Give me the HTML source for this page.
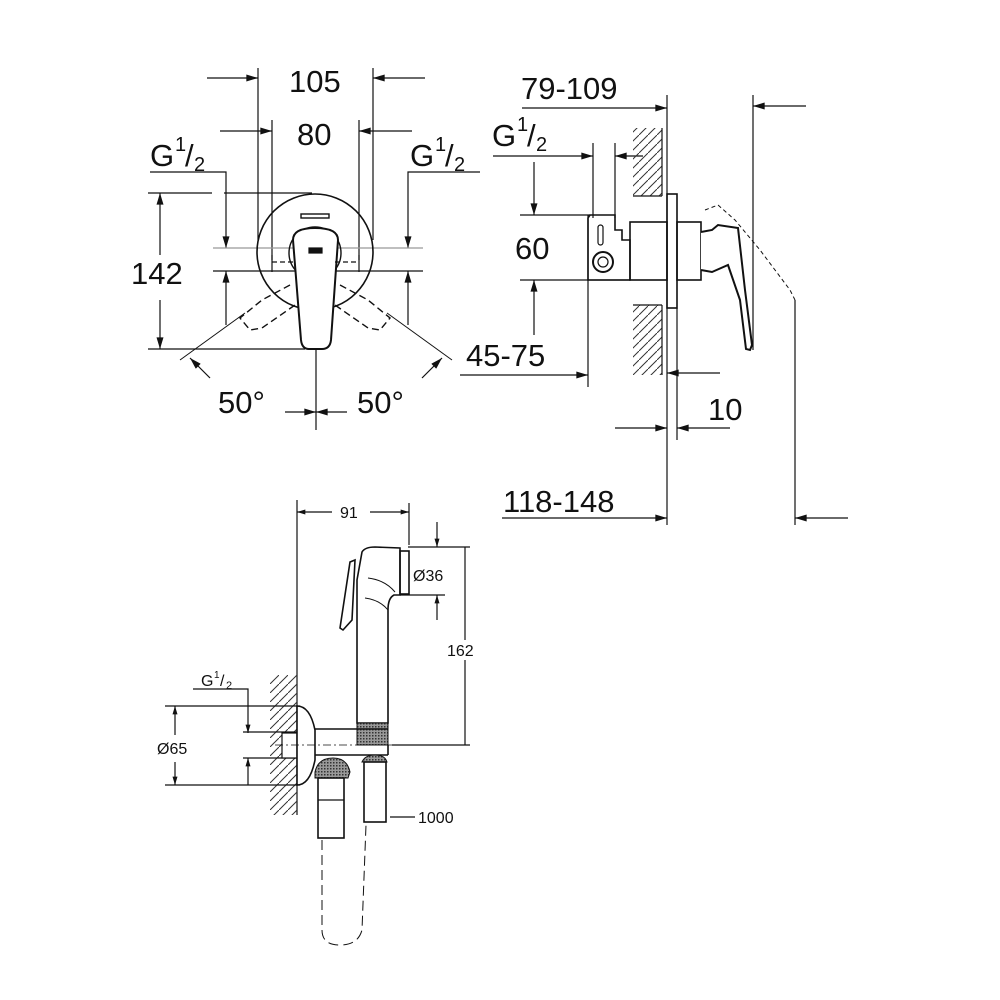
<!DOCTYPE html>
<html><head><meta charset="utf-8"><style>
html,body{margin:0;padding:0;background:#fff;}
svg{display:block;}
text{font-family:"Liberation Sans",Arial,sans-serif;fill:#111;}
</style></head><body>
<svg width="1000" height="1000" viewBox="0 0 1000 1000" xmlns="http://www.w3.org/2000/svg">
<defs>
<marker id="a" viewBox="0 0 10 6" refX="10" refY="3" markerWidth="18" markerHeight="7" markerUnits="userSpaceOnUse" orient="auto"><path d="M0,0 L10,3 L0,6z" fill="#111"/></marker>
<marker id="s" viewBox="0 0 10 6" refX="10" refY="3" markerWidth="11" markerHeight="5" markerUnits="userSpaceOnUse" orient="auto"><path d="M0,0 L10,3 L0,6z" fill="#111"/></marker>
<pattern id="h" patternUnits="userSpaceOnUse" width="9" height="9"><path d="M-1,10 L10,-1" stroke="#333" stroke-width="1"/></pattern>
<pattern id="k" patternUnits="userSpaceOnUse" width="3" height="3"><rect width="3" height="3" fill="#999"/><rect width="1.5" height="1.5" fill="#333"/></pattern>
</defs>
<g stroke="#111" stroke-width="1.2" fill="none">
<!-- ===== FRONT VIEW ===== -->
<line x1="258" y1="68" x2="258" y2="240"/>
<line x1="373" y1="68" x2="373" y2="240"/>
<line x1="207" y1="78" x2="258" y2="78" marker-end="url(#a)"/>
<line x1="425" y1="78" x2="373" y2="78" marker-end="url(#a)"/>
<line x1="272" y1="120" x2="272" y2="272"/>
<line x1="359" y1="120" x2="359" y2="272"/>
<line x1="220" y1="131" x2="272" y2="131" marker-end="url(#a)"/>
<line x1="412" y1="131" x2="359" y2="131" marker-end="url(#a)"/>
<polyline points="150,172 226,172 226,248" marker-end="url(#a)"/>
<polyline points="480,172 408,172 408,248" marker-end="url(#a)"/>
<line x1="213" y1="248" x2="423" y2="248" stroke="#999"/>
<line x1="213" y1="271" x2="423" y2="271"/>
<line x1="226" y1="325" x2="226" y2="271" marker-end="url(#a)"/>
<line x1="408" y1="325" x2="408" y2="271" marker-end="url(#a)"/>
<line x1="148" y1="193" x2="212" y2="193"/>
<line x1="224" y1="193" x2="312" y2="193"/>
<line x1="148" y1="349" x2="212" y2="349"/>
<line x1="212" y1="349" x2="305" y2="349"/>
<line x1="160" y1="255" x2="160" y2="193" marker-end="url(#a)"/>
<line x1="160" y1="300" x2="160" y2="349" marker-end="url(#a)"/>
<circle cx="315" cy="252" r="58" stroke-width="1.6"/>
<circle cx="315" cy="253" r="26" stroke-width="1.4"/>
<circle cx="315" cy="253" r="21" stroke-width="1"/>
<rect x="301" y="214" width="28" height="4" stroke-width="1.4"/>
<path d="M293,240 Q293,228 315,228 Q338,228 338,240 L331,340 Q330,349 322,349 L309,349 Q302,349 301,340 Z" fill="#fff" stroke-width="2"/>
<rect x="309" y="248" width="13" height="5" fill="#111"/>
<path d="M290,285 L262,300 L240,318 L250,330 L262,328 L295,305" stroke-dasharray="7,4" stroke-width="1.4"/>
<path d="M340,285 L368,300 L390,318 L380,330 L368,328 L335,305" stroke-dasharray="7,4" stroke-width="1.4"/>
<path d="M272,262 L295,262 M335,262 L359,262 M272,255 L272,262 M359,255 L359,262" stroke-dasharray="5,3"/>
<line x1="180" y1="360" x2="245" y2="313" stroke-width="1"/>
<line x1="452" y1="360" x2="387" y2="313" stroke-width="1"/>
<line x1="210" y1="378" x2="190" y2="358" marker-end="url(#a)"/>
<line x1="422" y1="378" x2="442" y2="358" marker-end="url(#a)"/>
<line x1="316" y1="349" x2="316" y2="430"/>
<line x1="285" y1="412" x2="316" y2="412" marker-end="url(#a)"/>
<line x1="347" y1="412" x2="316" y2="412" marker-end="url(#a)"/>
<!-- ===== SIDE VIEW ===== -->
<line x1="522" y1="108" x2="667" y2="108" marker-end="url(#a)"/>
<line x1="667" y1="95" x2="667" y2="525"/>
<line x1="753" y1="95" x2="753" y2="350"/>
<line x1="806" y1="106" x2="753" y2="106" marker-end="url(#a)"/>
<line x1="493" y1="156" x2="593" y2="156" marker-end="url(#a)"/>
<line x1="593" y1="143" x2="593" y2="218"/>
<line x1="615" y1="143" x2="615" y2="218"/>
<line x1="643" y1="156" x2="615" y2="156" marker-end="url(#a)"/>
<line x1="534" y1="162" x2="534" y2="215" marker-end="url(#a)"/>
<line x1="520" y1="215" x2="590" y2="215"/>
<line x1="520" y1="280" x2="630" y2="280"/>
<line x1="534" y1="335" x2="534" y2="280" marker-end="url(#a)"/>
<line x1="460" y1="375" x2="588" y2="375" marker-end="url(#a)"/>
<line x1="588" y1="215" x2="588" y2="387"/>
<rect x="633" y="128" width="29" height="68" fill="url(#h)" stroke="none"/>
<rect x="633" y="305" width="29" height="70" fill="url(#h)" stroke="none"/>
<line x1="662" y1="128" x2="662" y2="196"/>
<line x1="662" y1="305" x2="662" y2="375"/>
<line x1="633" y1="196" x2="662" y2="196"/>
<line x1="633" y1="305" x2="662" y2="305"/>
<rect x="667" y="194" width="10" height="114" stroke-width="1.6"/>
<rect x="630" y="222" width="37" height="58" stroke-width="1.6"/>
<rect x="677" y="222" width="24" height="58" stroke-width="1.6"/>
<path d="M588,218 L588,280 L630,280 L630,240 L622,240 L622,230 L615,230 L615,215 L590,215 Z" stroke-width="1.6"/>
<rect x="598" y="225" width="5" height="20" rx="2.5"/>
<circle cx="603" cy="262" r="10" stroke-width="2"/>
<circle cx="603" cy="262" r="5"/>
<path d="M701,232 L712,230 L718,225 L738,228 L745,290 L752,345 L750,350 L746,349 L740,300 L728,265 L712,272 L701,270" stroke-width="2" fill="#fff"/>
<path d="M705,210 L718,205 L735,220 L760,250 L790,290 L795,300" stroke-dasharray="4,3" stroke-width="1"/>
<line x1="677" y1="308" x2="677" y2="440"/>
<line x1="720" y1="373" x2="667" y2="373" marker-end="url(#a)"/>
<line x1="615" y1="428" x2="667" y2="428" marker-end="url(#a)"/>
<line x1="730" y1="428" x2="677" y2="428" marker-end="url(#a)"/>
<line x1="502" y1="518" x2="667" y2="518" marker-end="url(#a)"/>
<line x1="795" y1="300" x2="795" y2="525"/>
<line x1="848" y1="518" x2="795" y2="518" marker-end="url(#a)"/>
<!-- ===== HAND SHOWER ===== -->
<line x1="297" y1="500" x2="297" y2="815"/>
<line x1="409" y1="503" x2="409" y2="545"/>
<line x1="332" y1="512" x2="297" y2="512" marker-end="url(#s)"/>
<line x1="370" y1="512" x2="409" y2="512" marker-end="url(#s)"/>
<line x1="437" y1="522" x2="437" y2="547" marker-end="url(#s)"/>
<line x1="408" y1="547" x2="470" y2="547"/>
<line x1="400" y1="595" x2="445" y2="595"/>
<line x1="437" y1="620" x2="437" y2="595" marker-end="url(#s)"/>
<line x1="465" y1="547" x2="465" y2="640"/>
<line x1="465" y1="660" x2="465" y2="745"/>
<line x1="392" y1="745" x2="470" y2="745"/>
<path d="M362,552 Q365,547 375,547 L400,548 L400,595 L394,595 Q388,598 388,610 L388,723 L357,723 L357,580 Z" stroke-width="1.6" fill="#fff"/>
<rect x="400" y="551" width="9" height="43" stroke-width="1.6"/>
<path d="M368,578 Q385,580 395,592 M365,598 Q380,600 388,610" stroke-width="1"/>
<path d="M350,562 L355,560 L352,620 L343,630 L340,628 Z" stroke-width="1.6" fill="#fff"/>
<rect x="357" y="723" width="31" height="22" fill="url(#k)" stroke-width="1"/>
<!-- elbow -->
<rect x="270" y="675" width="27" height="140" fill="url(#h)" stroke="none"/>
<polyline points="193,689 248,689 248,733" marker-end="url(#s)"/>
<line x1="165" y1="706" x2="300" y2="706"/>
<line x1="165" y1="785" x2="300" y2="785"/>
<line x1="243" y1="732" x2="300" y2="732"/>
<line x1="243" y1="758" x2="300" y2="758"/>
<line x1="248" y1="785" x2="248" y2="758" marker-end="url(#s)"/>
<line x1="175" y1="735" x2="175" y2="706" marker-end="url(#s)"/>
<line x1="175" y1="762" x2="175" y2="785" marker-end="url(#s)"/>
<rect x="282" y="733" width="15" height="25" fill="#fff"/>
<path d="M297,706 Q310,706 315,730 L315,760 Q310,785 297,785 Z" stroke-width="1.6" fill="#fff"/>
<line x1="315" y1="729" x2="388" y2="729" stroke-width="1.6"/>
<line x1="315" y1="755" x2="388" y2="755" stroke-width="1.6"/>
<line x1="388" y1="745" x2="388" y2="755" stroke-width="1.6"/>
<line x1="275" y1="745" x2="392" y2="745" stroke-dasharray="8,3,2,3" stroke-width="0.8"/>
<path d="M315,772 Q318,758 333,758 Q347,758 350,772 L348,778 L315,778 Z" fill="url(#k)" stroke-width="1"/>
<path d="M362,762 Q365,755 375,755 Q385,755 387,762 Z" fill="url(#k)" stroke-width="1"/>
<rect x="318" y="778" width="26" height="60" stroke-width="1.6"/>
<rect x="364" y="762" width="22" height="60" stroke-width="1.6"/>
<line x1="318" y1="800" x2="344" y2="800"/>
<path d="M322,840 L322,930 Q322,945 340,945 Q358,945 362,930 L366,825" stroke-dasharray="10,5" stroke-width="1"/>
<line x1="390" y1="817" x2="415" y2="817"/>
</g>
<g font-size="31">
<text x="289" y="92">105</text>
<text x="297" y="145">80</text>
<text x="150" y="166">G</text><text x="175" y="151" font-size="20">1</text><text x="185" y="166">/</text><text x="194" y="171" font-size="20">2</text>
<text x="410" y="166">G</text><text x="435" y="151" font-size="20">1</text><text x="445" y="166">/</text><text x="454" y="171" font-size="20">2</text>
<text x="131" y="284">142</text>
<text x="218" y="413">50°</text>
<text x="357" y="413">50°</text>
<text x="521" y="99">79-109</text>
<text x="492" y="146">G</text><text x="517" y="131" font-size="20">1</text><text x="527" y="146">/</text><text x="536" y="151" font-size="20">2</text>
<text x="515" y="259">60</text>
<text x="466" y="366">45-75</text>
<text x="708" y="420">10</text>
<text x="503" y="512">118-148</text>
</g>
<g font-size="16">
<text x="340" y="518">91</text>
<text x="413" y="581">Ø36</text>
<text x="447" y="656">162</text>
<text x="201" y="686">G</text><text x="214" y="678" font-size="10">1</text><text x="220" y="686">/</text><text x="226" y="689" font-size="11">2</text>
<text x="157" y="754">Ø65</text>
<text x="418" y="823">1000</text>
</g>
</svg>
</body></html>
